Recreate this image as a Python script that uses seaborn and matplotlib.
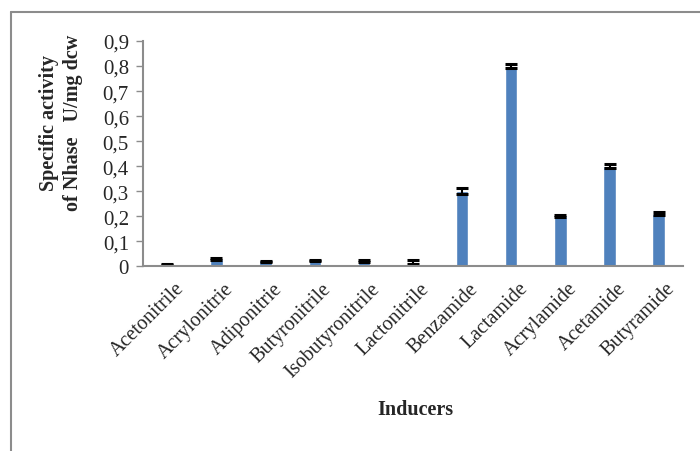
import matplotlib
matplotlib.use("Agg")
import matplotlib.pyplot as plt
import matplotlib.transforms as mtransforms
from matplotlib.ticker import FuncFormatter, MultipleLocator
from matplotlib.lines import Line2D
import seaborn as sns
import pandas as pd

inducers = ["Acetonitrile", "Acrylonitrie", "Adiponitrie", "Butyronitrile",
            "Isobutyronitrile", "Lactonitrile", "Benzamide", "Lactamide",
            "Acrylamide", "Acetamide", "Butyramide"]
activity = [0.006, 0.027, 0.019, 0.023, 0.020, 0.017, 0.300, 0.800, 0.200, 0.400, 0.210]
errors = [0.003, 0.004, 0.003, 0.003, 0.003, 0.007, 0.012, 0.007, 0.004, 0.007, 0.005]

df = pd.DataFrame({"Inducer": inducers, "Activity": activity, "Err": errors})

sns.set_style("white")
plt.rcParams["font.family"] = ["Liberation Serif", "DejaVu Serif"]

fig = plt.figure(figsize=(7.0, 4.52), dpi=100)
ax = fig.add_axes([0.204, 0.409, 0.772, 0.498])

sns.barplot(data=df, x="Inducer", y="Activity", color="#4F81BD",
            saturation=1, width=0.25, errorbar=None, ax=ax)
ax.errorbar(range(len(df)), df["Activity"], yerr=df["Err"], fmt="none",
            ecolor="black", elinewidth=1.5, capsize=4.5, capthick=2.2)

ax.set_ylim(0, 0.9)
ax.set_xlim(-0.5, len(df) - 0.5)
ax.yaxis.set_major_locator(MultipleLocator(0.1))
ax.yaxis.set_major_formatter(FuncFormatter(
    lambda v, p: "0" if abs(v) < 1e-9 else f"{v:.1f}".replace(".", ",")))

for s in ["top", "right"]:
    ax.spines[s].set_visible(False)
for s in ["left", "bottom"]:
    ax.spines[s].set_color("#8c8c8c")
    ax.spines[s].set_linewidth(1.5)

ax.tick_params(axis="y", which="major", direction="out", length=5,
               width=1, color="#8c8c8c", labelsize=15, pad=5, left=True)
ax.tick_params(axis="x", length=0, labelsize=14.5, pad=9)
shift = mtransforms.ScaledTranslation(5 / 72, 0, fig.dpi_scale_trans)
for lbl in ax.get_xticklabels():
    lbl.set_rotation(45)
    lbl.set_ha("right")
    lbl.set_rotation_mode("anchor")
    lbl.set_transform(lbl.get_transform() + shift)

ax.set_xlabel("")
ax.set_ylabel("")
fig.text(0.594, 1 - 410 / 452, "Inducers", fontsize=14.5, fontweight="bold",
         ha="center", va="center")
fig.text(61 / 700, 1 - 123 / 452, "Specific activity\nof Nhase   U/mg dcw",
         fontsize=14.5, fontweight="bold", rotation=90, ha="center",
         va="center", multialignment="center", linespacing=1.3)

# chart-area frame (top and left edges)
fig.add_artist(Line2D([0.016, 1.0], [0.972, 0.972], transform=fig.transFigure,
                      color="#8c8c8c", linewidth=1.5))
fig.add_artist(Line2D([0.016, 0.016], [0.0, 0.972], transform=fig.transFigure,
                      color="#8c8c8c", linewidth=1.5))

fig.savefig("out.png", dpi=100, facecolor="white")
